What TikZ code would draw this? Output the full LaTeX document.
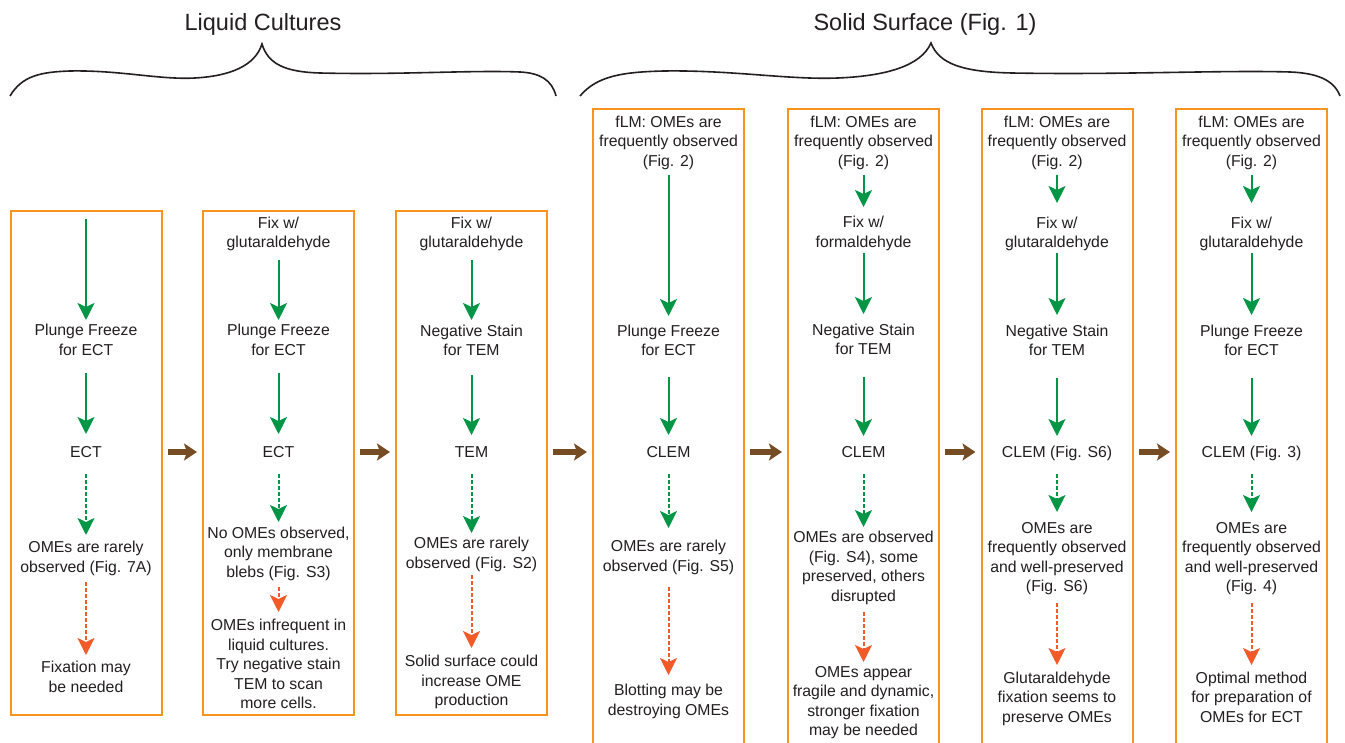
\documentclass[tikz,border=0pt]{standalone}
\usepackage{fontspec}
\setmainfont{Liberation Sans}
\usetikzlibrary{arrows.meta}
\definecolor{boxor}{RGB}{247,148,29}
\definecolor{gr}{RGB}{0,150,70}
\definecolor{orr}{RGB}{241,90,41}
\definecolor{brn}{RGB}{117,76,36}
\definecolor{txt}{RGB}{35,31,32}
\tikzset{
  box/.style={draw=boxor, line width=2pt, minimum width=151pt, inner sep=0pt},
  lbl/.style={font=\fontsize{15.8}{19.5}\selectfont, align=center, inner sep=0pt, text=txt,
    execute at begin node=\strut, execute at end node=\strut},
  ttl/.style={font=\fontsize{23.5}{28}\selectfont, inner sep=0pt, text=txt},
  garr/.style={draw=gr, line width=2pt, -{Stealth[length=17pt,width=17pt,inset=4pt]}},
  gdash/.style={garr, dash pattern=on 3.5pt off 2.5pt},
  odash/.style={draw=orr, line width=2pt, dash pattern=on 3.5pt off 2.5pt, -{Stealth[length=17pt,width=17pt,inset=4pt]}},
  brarr/.style={draw=brn, line width=6.5pt, -{Stealth[length=13pt,width=17pt,inset=3pt]}, shorten <=5pt, shorten >=5pt},
  bracel/.style={draw=txt, line width=1.6pt}
}
\begin{document}
\begin{tikzpicture}[x=1pt,y=-1pt]
\useasboundingbox (0,0) rectangle (1345,743);
\clip (0,0) rectangle (1345,743);
\fill[white] (0,0) rectangle (1345,743);

% titles and braces
\node[ttl] (t1) at (263,24) {Liquid Cultures};
\node[ttl] (t2) at (925,24) {Solid Surface (Fig. 1)};
\draw[bracel] (10,96) .. controls (22,76) and (40,72) .. (70,71)
  .. controls (120,70) and (160,80) .. (195,78)
  .. controls (230,76) and (255,66) .. (262,44)
  .. controls (268,64) and (285,72) .. (320,73)
  .. controls (400,75) and (470,70) .. (520,72)
  .. controls (540,73) and (552,80) .. (556,96);
\draw[bracel] (580,96) .. controls (597,76) and (622,72) .. (664,71)
  .. controls (733,70) and (789,80) .. (838,78)
  .. controls (886,76) and (921,66) .. (931,43)
  .. controls (939,64) and (963,72) .. (1012,73)
  .. controls (1123,75) and (1220,70) .. (1290,72)
  .. controls (1317,73) and (1334,80) .. (1340,96);

% boxes
\node[box, minimum height=504pt] (B1) at (86,463) {};
\node[box, minimum height=504pt] (B2) at (278.5,463) {};
\node[box, minimum height=504pt] (B3) at (471.5,463) {};
\node[box, minimum height=651pt] (B4) at (668.5,434.5) {};
\node[box, minimum height=651pt] (B5) at (863.5,434.5) {};
\node[box, minimum height=651pt] (B6) at (1057,434.5) {};
\node[box, minimum height=651pt] (B7) at (1251.5,434.5) {};

% brown arrows
\draw[brarr] (B1.east |- 0,452) -- (B2.west |- 0,452);
\draw[brarr] (B2.east |- 0,452) -- (B3.west |- 0,452);
\draw[brarr] (B3.east |- 0,452) -- (B4.west |- 0,452);
\draw[brarr] (B4.east |- 0,452) -- (B5.west |- 0,452);
\draw[brarr] (B5.east |- 0,452) -- (B6.west |- 0,452);
\draw[brarr] (B6.east |- 0,452) -- (B7.west |- 0,452);

% box 1
\node[lbl] (a1) at (86,342.5) {Plunge Freeze\\for ECT};
\node[lbl] (a2) at (86,454) {ECT};
\node[lbl] (a3) at (86,559.5) {OMEs are rarely\\observed (Fig. 7A)};
\node[lbl] (a4) at (86,679.5) {Fixation may\\be needed};
\draw[garr] (B1.center |- 0,219) -- (a1.center |- 0,320);
\draw[garr] (a1.center |- 0,373) -- (a2.center |- 0,434);
\draw[gdash] (a2.center |- 0,474) -- (a3.center |- 0,535);
\draw[odash] (a3.center |- 0,582) -- (a4.center |- 0,655);

% box 2
\node[lbl] (b1) at (278.5,235) {Fix w/\\glutaraldehyde};
\node[lbl] (b2) at (278.5,342.5) {Plunge Freeze\\for ECT};
\node[lbl] (b3) at (278.5,454) {ECT};
\node[lbl] (b4) at (278.5,555) {No OMEs observed,\\only membrane\\blebs (Fig. S3)};
\node[lbl] (b5) at (278.5,667) {OMEs infrequent in\\liquid cultures.\\Try negative stain\\TEM to scan\\more cells.};
\draw[garr] (b1.center |- 0,260) -- (b2.center |- 0,320);
\draw[garr] (b2.center |- 0,373) -- (b3.center |- 0,434);
\draw[gdash] (b3.center |- 0,474) -- (b4.center |- 0,522);
\draw[odash] (b4.center |- 0,587) -- (b5.center |- 0,612);

% box 3
\node[lbl] (c1) at (471.5,235) {Fix w/\\glutaraldehyde};
\node[lbl] (c2) at (471.5,343) {Negative Stain\\for TEM};
\node[lbl] (c3) at (471.5,454) {TEM};
\node[lbl] (c4) at (471.5,555.5) {OMEs are rarely\\observed (Fig. S2)};
\node[lbl] (c5) at (471.5,683.5) {Solid surface could\\increase OME\\production};
\draw[garr] (c1.center |- 0,260) -- (c2.center |- 0,320);
\draw[garr] (c2.center |- 0,375) -- (c3.center |- 0,435);
\draw[gdash] (c3.center |- 0,474) -- (c4.center |- 0,533);
\draw[odash] (c4.center |- 0,575) -- (c5.center |- 0,648);

% box 4
\node[lbl] (d1) at (668.5,144) {fLM: OMEs are\\frequently observed\\(Fig. 2)};
\node[lbl] (d2) at (668.5,343) {Plunge Freeze\\for ECT};
\node[lbl] (d3) at (668.5,454) {CLEM};
\node[lbl] (d4) at (668.5,558.5) {OMEs are rarely\\observed (Fig. S5)};
\node[lbl] (d5) at (668.5,702.5) {Blotting may be\\destroying OMEs};
\draw[garr] (d1.center |- 0,175) -- (d2.center |- 0,316);
\draw[garr] (d2.center |- 0,377) -- (d3.center |- 0,435);
\draw[gdash] (d3.center |- 0,474) -- (d4.center |- 0,528);
\draw[odash] (d4.center |- 0,587) -- (d5.center |- 0,675);

% box 5
\node[lbl] (e1) at (863.5,144) {fLM: OMEs are\\frequently observed\\(Fig. 2)};
\node[lbl] (e2) at (863.5,234.5) {Fix w/\\formaldehyde};
\node[lbl] (e3) at (863.5,342) {Negative Stain\\for TEM};
\node[lbl] (e4) at (863.5,454) {CLEM};
\node[lbl] (e5) at (863.5,569) {OMEs are observed\\(Fig. S4), some\\preserved, others\\disrupted};
\node[lbl] (e6) at (863.5,704) {OMEs appear\\fragile and dynamic,\\stronger fixation\\may be needed};
\draw[garr] (e1.center |- 0,175) -- (e2.center |- 0,207);
\draw[garr] (e2.center |- 0,253) -- (e3.center |- 0,314);
\draw[garr] (e3.center |- 0,377) -- (e4.center |- 0,436);
\draw[gdash] (e4.center |- 0,474) -- (e5.center |- 0,527);
\draw[odash] (e5.center |- 0,612) -- (e6.center |- 0,662);

% box 6
\node[lbl] (f1) at (1057,144) {fLM: OMEs are\\frequently observed\\(Fig. 2)};
\node[lbl] (f2) at (1057,235) {Fix w/\\glutaraldehyde};
\node[lbl] (f3) at (1057,343) {Negative Stain\\for TEM};
\node[lbl] (f4) at (1057,454) {CLEM (Fig. S6)};
\node[lbl] (f5) at (1057,560) {OMEs are\\frequently observed\\and well-preserved\\(Fig. S6)};
\node[lbl] (f6) at (1057,700) {Glutaraldehyde\\fixation seems to\\preserve OMEs};
\draw[garr] (f1.center |- 0,175) -- (f2.center |- 0,203);
\draw[garr] (f2.center |- 0,253) -- (f3.center |- 0,315);
\draw[garr] (f3.center |- 0,378) -- (f4.center |- 0,436);
\draw[gdash] (f4.center |- 0,474) -- (f5.center |- 0,512);
\draw[odash] (f5.center |- 0,603) -- (f6.center |- 0,665);

% box 7
\node[lbl] (g1) at (1251.5,144) {fLM: OMEs are\\frequently observed\\(Fig. 2)};
\node[lbl] (g2) at (1251.5,235) {Fix w/\\glutaraldehyde};
\node[lbl] (g3) at (1251.5,343) {Plunge Freeze\\for ECT};
\node[lbl] (g4) at (1251.5,454) {CLEM (Fig. 3)};
\node[lbl] (g5) at (1251.5,560) {OMEs are\\frequently observed\\and well-preserved\\(Fig. 4)};
\node[lbl] (g6) at (1251.5,700) {Optimal method\\for preparation of\\OMEs for ECT};
\draw[garr] (g1.center |- 0,175) -- (g2.center |- 0,203);
\draw[garr] (g2.center |- 0,253) -- (g3.center |- 0,315);
\draw[garr] (g3.center |- 0,378) -- (g4.center |- 0,436);
\draw[gdash] (g4.center |- 0,474) -- (g5.center |- 0,512);
\draw[odash] (g5.center |- 0,603) -- (g6.center |- 0,665);
\end{tikzpicture}
\end{document}
